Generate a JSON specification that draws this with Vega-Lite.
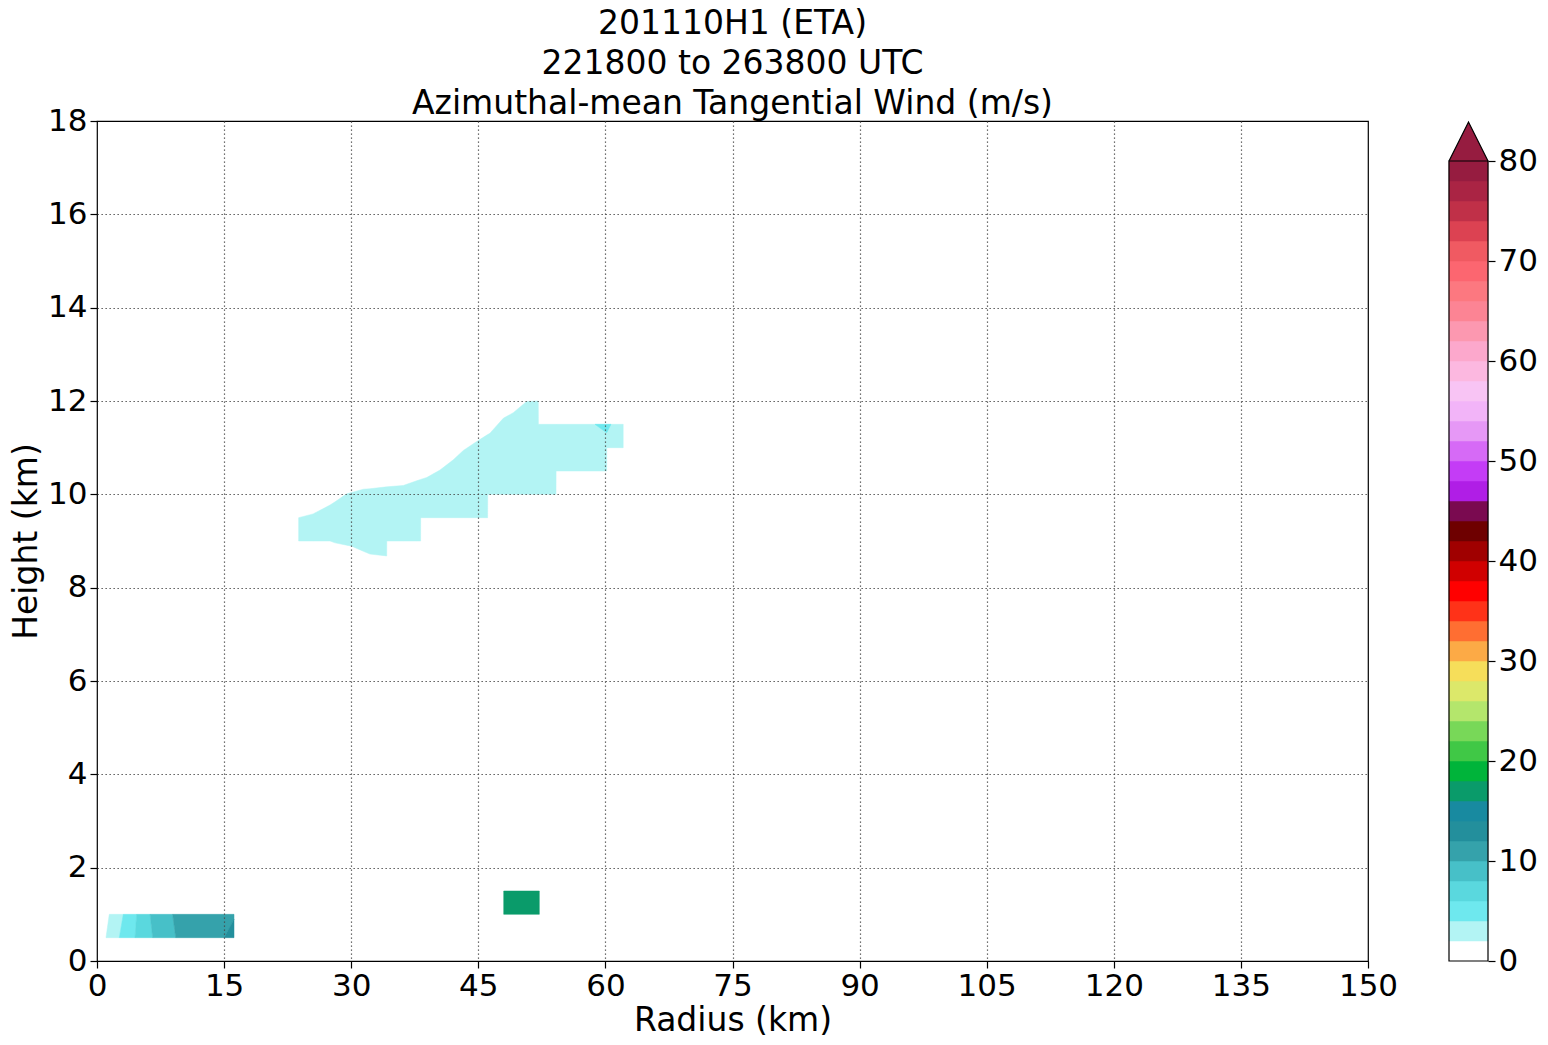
{
  "$schema": "https://vega.github.io/schema/vega-lite/v6.json",
  "background": "white",
  "padding": {"left": 9, "top": 7, "right": 5, "bottom": 5},
  "bounds": "flush",
  "spacing": 81,
  "config": {
    "font": "DejaVu Sans",
    "view": {"stroke": "black", "strokeWidth": 1.2},
    "axis": {
      "labelColor": "black", "titleColor": "black", "tickColor": "black",
      "labelFontSize": 31, "titleFontSize": 33, "titleFontWeight": "normal",
      "tickSize": 7, "tickWidth": 1.2, "labelPadding": 3, "domain": false,
      "labelFont": "DejaVu Sans", "titleFont": "DejaVu Sans", "labelOverlap": false, "labelFlush": false
    }
  },
  "datasets": {
    "blob": [
      {"r": 23.8, "top": 9.5, "bot": 9.0},
      {"r": 25.5, "top": 9.58, "bot": 9.0},
      {"r": 27.5, "top": 9.77, "bot": 9.0},
      {"r": 28.1, "top": 9.84, "bot": 8.96},
      {"r": 29.47, "top": 10.01, "bot": 8.91},
      {"r": 30.06, "top": 10.04, "bot": 8.89},
      {"r": 31.43, "top": 10.11, "bot": 8.78},
      {"r": 32.22, "top": 10.12, "bot": 8.72},
      {"r": 34.19, "top": 10.16, "bot": 8.68},
      {"r": 34.2, "top": 10.16, "bot": 9.0},
      {"r": 36.15, "top": 10.19, "bot": 9.0},
      {"r": 37.73, "top": 10.29, "bot": 9.0},
      {"r": 38.19, "top": 10.32, "bot": 9.0},
      {"r": 38.2, "top": 10.32, "bot": 9.5},
      {"r": 38.91, "top": 10.36, "bot": 9.5},
      {"r": 40.48, "top": 10.52, "bot": 9.5},
      {"r": 42.05, "top": 10.74, "bot": 9.5},
      {"r": 43.23, "top": 10.94, "bot": 9.5},
      {"r": 44.81, "top": 11.13, "bot": 9.5},
      {"r": 46.1, "top": 11.28, "bot": 9.5},
      {"r": 46.11, "top": 11.28, "bot": 10.0},
      {"r": 46.38, "top": 11.31, "bot": 10.0},
      {"r": 47.95, "top": 11.63, "bot": 10.0},
      {"r": 49.13, "top": 11.75, "bot": 10.0},
      {"r": 50.71, "top": 11.99, "bot": 10.0},
      {"r": 52.08, "top": 12.0, "bot": 10.0},
      {"r": 52.09, "top": 11.5, "bot": 10.0},
      {"r": 54.17, "top": 11.5, "bot": 10.0},
      {"r": 54.18, "top": 11.5, "bot": 10.5},
      {"r": 60.15, "top": 11.5, "bot": 10.5},
      {"r": 60.16, "top": 11.5, "bot": 11.0},
      {"r": 62.1, "top": 11.5, "bot": 11.0}
    ],
    "pieces": [
      {"piece": "a", "level": 2, "h": 0.5, "r1": 1.06, "r2": 2.63},
      {"piece": "a", "level": 2, "h": 1.0, "r1": 1.45, "r2": 3.1},
      {"piece": "b", "level": 4, "h": 0.5, "r1": 2.63, "r2": 4.48},
      {"piece": "b", "level": 4, "h": 1.0, "r1": 3.1, "r2": 4.68},
      {"piece": "c", "level": 6, "h": 0.5, "r1": 4.48, "r2": 6.57},
      {"piece": "c", "level": 6, "h": 1.0, "r1": 4.68, "r2": 6.26},
      {"piece": "d", "level": 8, "h": 0.5, "r1": 6.57, "r2": 9.29},
      {"piece": "d", "level": 8, "h": 1.0, "r1": 6.26, "r2": 8.93},
      {"piece": "e", "level": 10, "h": 0.5, "r1": 9.29, "r2": 15.0},
      {"piece": "e", "level": 10, "h": 0.9, "r1": 9.0, "r2": 16.17},
      {"piece": "e", "level": 10, "h": 1.0, "r1": 8.93, "r2": 16.17},
      {"piece": "f", "level": 12, "h": 0.5, "r1": 15.0, "r2": 16.17},
      {"piece": "f", "level": 12, "h": 0.9, "r1": 16.17, "r2": 16.17},
      {"piece": "g", "level": 4, "h": 11.32, "r1": 60.15, "r2": 60.15},
      {"piece": "g", "level": 4, "h": 11.5, "r1": 58.77, "r2": 60.66},
      {"piece": "h", "level": 16, "h": 1.0, "r1": 48.0, "r2": 52.2},
      {"piece": "h", "level": 16, "h": 1.5, "r1": 48.0, "r2": 52.2}
    ],
    "bar": [
      {"level": 0, "lo": 0, "hi": 2}, {"level": 2, "lo": 2, "hi": 4}, {"level": 4, "lo": 4, "hi": 6}, {"level": 6, "lo": 6, "hi": 8},
      {"level": 8, "lo": 8, "hi": 10}, {"level": 10, "lo": 10, "hi": 12}, {"level": 12, "lo": 12, "hi": 14}, {"level": 14, "lo": 14, "hi": 16},
      {"level": 16, "lo": 16, "hi": 18}, {"level": 18, "lo": 18, "hi": 20}, {"level": 20, "lo": 20, "hi": 22}, {"level": 22, "lo": 22, "hi": 24},
      {"level": 24, "lo": 24, "hi": 26}, {"level": 26, "lo": 26, "hi": 28}, {"level": 28, "lo": 28, "hi": 30}, {"level": 30, "lo": 30, "hi": 32},
      {"level": 32, "lo": 32, "hi": 34}, {"level": 34, "lo": 34, "hi": 36}, {"level": 36, "lo": 36, "hi": 38}, {"level": 38, "lo": 38, "hi": 40},
      {"level": 40, "lo": 40, "hi": 42}, {"level": 42, "lo": 42, "hi": 44}, {"level": 44, "lo": 44, "hi": 46}, {"level": 46, "lo": 46, "hi": 48},
      {"level": 48, "lo": 48, "hi": 50}, {"level": 50, "lo": 50, "hi": 52}, {"level": 52, "lo": 52, "hi": 54}, {"level": 54, "lo": 54, "hi": 56},
      {"level": 56, "lo": 56, "hi": 58}, {"level": 58, "lo": 58, "hi": 60}, {"level": 60, "lo": 60, "hi": 62}, {"level": 62, "lo": 62, "hi": 64},
      {"level": 64, "lo": 64, "hi": 66}, {"level": 66, "lo": 66, "hi": 68}, {"level": 68, "lo": 68, "hi": 70}, {"level": 70, "lo": 70, "hi": 72},
      {"level": 72, "lo": 72, "hi": 74}, {"level": 74, "lo": 74, "hi": 76}, {"level": 76, "lo": 76, "hi": 78}, {"level": 78, "lo": 78, "hi": 80}
    ],
    "tri": [
      {"u": 0, "v": 80, "base": 80, "level": 78},
      {"u": 0.5, "v": 83.9, "base": 80, "level": 78},
      {"u": 1, "v": 80, "base": 80, "level": 78}
    ]
  },
  "hconcat": [
    {
      "width": 1271,
      "height": 840,
      "title": {
        "text": ["201110H1 (ETA)", "221800 to 263800 UTC", "Azimuthal-mean Tangential Wind (m/s)"],
        "fontSize": 33, "fontWeight": "normal", "lineHeight": 40, "offset": -16, "color": "black", "font": "DejaVu Sans"
      },
      "layer": [
        {
          "data": {"name": "blob"},
          "mark": {"type": "area", "color": "#b3f4f4", "stroke": "#b3f4f4", "strokeWidth": 0.5},
          "encoding": {
            "x": {
              "field": "r", "type": "quantitative",
              "scale": {"domain": [0, 150], "nice": false, "zero": false},
              "axis": {
                "values": [0, 15, 30, 45, 60, 75, 90, 105, 120, 135, 150],
                "title": "Radius (km)", "titlePadding": 3, "zindex": 1,
                "grid": true, "gridDash": [1.3, 2.7], "gridWidth": 1.2,
                "gridColor": {"condition": {"test": "datum.value == 0 || datum.value == 150", "value": "transparent"}, "value": "#444444"}
              }
            },
            "y": {
              "field": "top", "type": "quantitative",
              "scale": {"domain": [0, 18], "nice": false, "zero": false},
              "axis": {
                "values": [0, 2, 4, 6, 8, 10, 12, 14, 16, 18],
                "title": "Height (km)", "titlePadding": 4, "zindex": 1,
                "grid": true, "gridDash": [1.3, 2.7], "gridWidth": 1.2,
                "gridColor": {"condition": {"test": "datum.value == 0 || datum.value == 18", "value": "transparent"}, "value": "#444444"}
              }
            },
            "y2": {"field": "bot"}
          }
        },
        {
          "data": {"name": "pieces"},
          "mark": {"type": "area", "orient": "horizontal", "strokeWidth": 0.5},
          "encoding": {
            "y": {"field": "h", "type": "quantitative"},
            "x": {"field": "r1", "type": "quantitative"},
            "x2": {"field": "r2"},
            "detail": {"field": "piece", "type": "nominal"},
            "color": {"field": "level", "type": "ordinal", "legend": null,
              "scale": {
                "domain": [0,2,4,6,8,10,12,14,16,18,20,22,24,26,28,30,32,34,36,38,40,42,44,46,48,50,52,54,56,58,60,62,64,66,68,70,72,74,76,78],
                "range": ["#ffffff","#b3f4f4","#6ee8ee","#5ad8de","#47c0c8","#35a2ab","#238f9c","#188aa0","#0a9b6a","#00b43a","#40c846","#78d858","#b4e66c","#dce86a","#f6de5a","#fcaa46","#ff6e32","#ff3218","#ff0000","#d00000","#a00000","#6e0000","#7a0a50","#b01ee6","#c43cf6","#d66af6","#e698f6","#f2b4f8","#f8c4f4","#fcb8e0","#fca8cc","#fc98b0","#fc8494","#fc7880","#fc6670","#f05a62","#dc4252","#c03048","#aa2444","#961c40"]
              }
            },
            "stroke": {"field": "level", "type": "ordinal", "legend": null,
              "scale": {
                "domain": [0,2,4,6,8,10,12,14,16,18,20,22,24,26,28,30,32,34,36,38,40,42,44,46,48,50,52,54,56,58,60,62,64,66,68,70,72,74,76,78],
                "range": ["#ffffff","#b3f4f4","#6ee8ee","#5ad8de","#47c0c8","#35a2ab","#238f9c","#188aa0","#0a9b6a","#00b43a","#40c846","#78d858","#b4e66c","#dce86a","#f6de5a","#fcaa46","#ff6e32","#ff3218","#ff0000","#d00000","#a00000","#6e0000","#7a0a50","#b01ee6","#c43cf6","#d66af6","#e698f6","#f2b4f8","#f8c4f4","#fcb8e0","#fca8cc","#fc98b0","#fc8494","#fc7880","#fc6670","#f05a62","#dc4252","#c03048","#aa2444","#961c40"]
              }
            }
          }
        }
      ]
    },
    {
      "width": 39,
      "height": 840,
      "view": {"stroke": null},
      "layer": [
        {
          "data": {"name": "bar"},
          "mark": {"type": "rect", "strokeWidth": 0.5},
          "encoding": {
            "y": {"field": "lo", "type": "quantitative",
              "scale": {"domain": [0, 84], "nice": false, "zero": false},
              "axis": {"orient": "right", "values": [0, 10, 20, 30, 40, 50, 60, 70, 80], "title": null, "grid": false, "zindex": 1}
            },
            "y2": {"field": "hi"},
            "color": {"field": "level", "type": "ordinal", "legend": null},
            "stroke": {"field": "level", "type": "ordinal", "legend": null}
          }
        },
        {
          "data": {"name": "tri"},
          "mark": {"type": "area", "color": "#961c40"},
          "encoding": {
            "x": {"field": "u", "type": "quantitative", "scale": {"domain": [0, 1], "nice": false}, "axis": null},
            "y": {"field": "v", "type": "quantitative"},
            "y2": {"field": "base"}
          }
        },
        {
          "data": {"name": "tri"},
          "mark": {"type": "line", "color": "black", "strokeWidth": 1.2},
          "encoding": {
            "x": {"field": "u", "type": "quantitative"},
            "y": {"field": "v", "type": "quantitative"}
          }
        },
        {
          "data": {"values": [{"lo": 0, "hi": 80}]},
          "mark": {"type": "rect", "filled": false, "stroke": "black", "strokeWidth": 1.2},
          "encoding": {
            "y": {"field": "lo", "type": "quantitative"},
            "y2": {"field": "hi"}
          }
        }
      ]
    }
  ]
}
